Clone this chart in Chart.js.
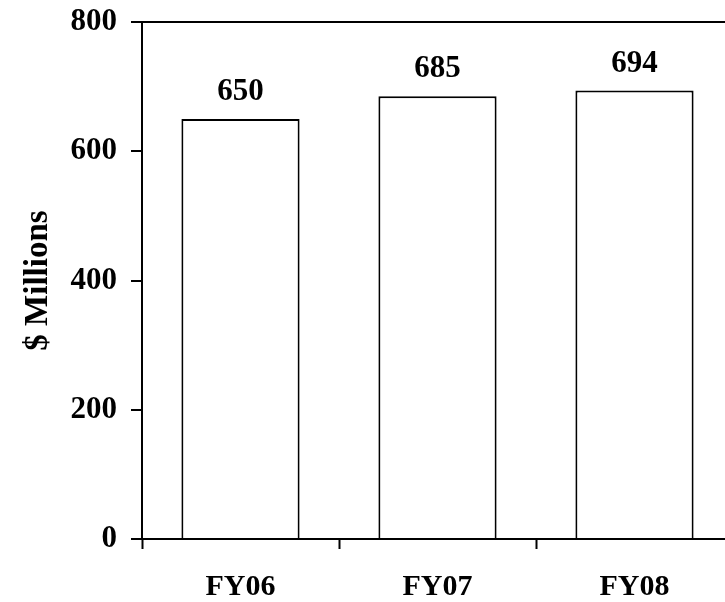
<!DOCTYPE html>
<html>
<head>
<meta charset="utf-8">
<script src="https://cdn.jsdelivr.net/npm/chart.js@4.4.1/dist/chart.umd.min.js"></script>
<style>
  html, body { margin: 0; padding: 0; overflow: hidden; background: #fff; }
  #wrap { width: 725px; height: 602px; overflow: hidden; }
  canvas { display: block; }
</style>
</head>
<body>
<div id="wrap"><canvas id="chart" width="733" height="602"></canvas></div>
<script>
// Annual spending, $ millions
const years = ['FY06', 'FY07', 'FY08'];
const spending = [650, 685, 694];
const yTicks = [0, 200, 400, 600, 800];

const serif = "'Liberation Serif', 'Times New Roman', Times, serif";

// Writes each bar's value above it
const valueLabels = {
  id: 'valueLabels',
  afterDatasetsDraw(chart) {
    const ctx = chart.ctx;
    const meta = chart.getDatasetMeta(0);
    ctx.save();
    ctx.font = 'bold 31px ' + serif;
    ctx.fillStyle = '#000';
    ctx.textAlign = 'center';
    ctx.textBaseline = 'alphabetic';
    meta.data.forEach((bar, i) => {
      ctx.fillText(String(spending[i]), bar.x, bar.y - 19);
    });
    ctx.restore();
  }
};

new Chart(document.getElementById('chart'), {
  type: 'bar',
  data: {
    labels: years,
    datasets: [{
      data: spending,
      backgroundColor: '#fff',
      borderColor: '#000',
      borderWidth: 2,
      borderSkipped: 'start',
      categoryPercentage: 1,
      barPercentage: 0.6
    }]
  },
  options: {
    responsive: false,
    animation: false,
    layout: { padding: { top: 22, right: 0, bottom: 0, left: 0 } },
    plugins: { legend: { display: false }, tooltip: { enabled: false } },
    scales: {
      x: {
        grid: {
          offset: true,
          drawOnChartArea: false,
          drawTicks: true,
          tickLength: 10,
          tickWidth: 2,
          tickColor: '#000'
        },
        border: { display: true, color: '#000', width: 2 },
        ticks: {
          color: '#000',
          padding: 20,
          font: { family: serif, size: 30, weight: 'bold' }
        },
        afterFit(scale) { scale.height = 63; }
      },
      y: {
        min: 0,
        max: 800,
        afterBuildTicks(scale) { scale.ticks = yTicks.map(v => ({ value: v })); },
        grid: {
          drawOnChartArea: true,
          color: c => (c.tick && c.tick.value === 800 ? '#000' : 'rgba(0,0,0,0)'),
          lineWidth: 2,
          drawTicks: true,
          tickLength: 11,
          tickWidth: 2,
          tickColor: '#000'
        },
        border: { display: true, color: '#000', width: 2 },
        ticks: {
          color: '#000',
          padding: 14,
          font: { family: serif, size: 31, weight: 'bold', lineHeight: 0.5 }
        },
        title: {
          display: true,
          text: '$ Millions',
          color: '#000',
          padding: { top: 22, bottom: 0 },
          font: { family: serif, size: 33, weight: 'bold', lineHeight: 1 }
        },
        afterFit(scale) {
          scale.width = 142;
          scale.paddingTop = 0;
          scale.paddingBottom = 0;
        }
      }
    }
  },
  plugins: [valueLabels]
});
</script>
</body>
</html>
